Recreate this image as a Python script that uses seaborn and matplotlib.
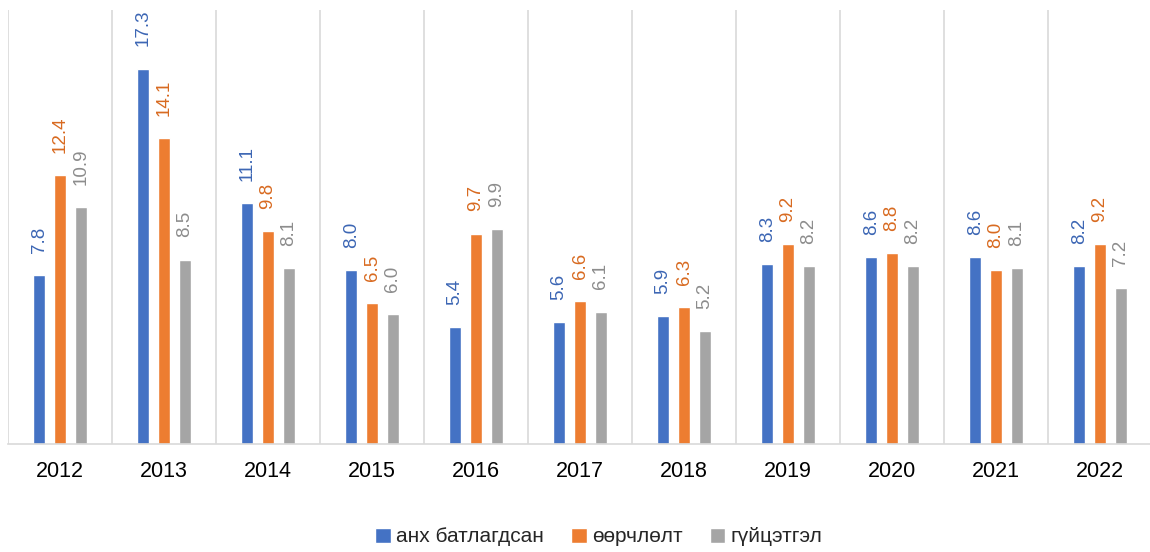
import pandas as pd
import matplotlib.pyplot as plt
import seaborn as sns

# Өгөгдөл
years = ["2012", "2013", "2014", "2015", "2016", "2017", "2018", "2019", "2020", "2021", "2022"]
series = ["анх батлагдсан", "өөрчлөлт", "гүйцэтгэл"]
anh = [7.8, 17.3, 11.1, 8.0, 5.4, 5.6, 5.9, 8.3, 8.6, 8.6, 8.2]
oorchlolt = [12.4, 14.1, 9.8, 6.5, 9.7, 6.6, 6.3, 9.2, 8.8, 8.0, 9.2]
guitsetgel = [10.9, 8.5, 8.1, 6.0, 9.9, 6.1, 5.2, 8.2, 8.2, 8.1, 7.2]

df = pd.DataFrame({
    "year": years * 3,
    "series": [series[0]] * 11 + [series[1]] * 11 + [series[2]] * 11,
    "value": anh + oorchlolt + guitsetgel,
})

bar_colors = ["#4472C4", "#ED7D31", "#A5A5A5"]
label_colors = ["#3C66B4", "#D86A20", "#8C8C8C"]

sns.set_style("white")
plt.rcParams["font.family"] = ["Liberation Sans", "DejaVu Sans"]

fig = plt.figure(figsize=(11.5, 5.52), dpi=100)
ax = fig.add_axes([8 / 1150, 108 / 552, 1144 / 1150, 434 / 552])

sns.barplot(data=df, x="year", y="value", hue="series", order=years,
            hue_order=series, palette=bar_colors, width=0.6, gap=0.43,
            saturation=1, ax=ax)

for cont, col in zip(ax.containers, label_colors):
    ax.bar_label(cont, fmt="%.1f", rotation=90, padding=16,
                 color=col, fontsize=13.5)

ax.set_ylim(0, 20)
ax.set_xlim(-0.5, len(years) - 0.5)
for i in range(len(years) + 1):
    ax.axvline(i - 0.5, color="#D9D9D9", lw=1.2, zorder=0)

ax.set_yticks([])
ax.set_xlabel("")
ax.set_ylabel("")
for s in ["top", "right", "left"]:
    ax.spines[s].set_visible(False)
ax.spines["bottom"].set_color("#D9D9D9")
ax.spines["bottom"].set_linewidth(1.2)
ax.tick_params(axis="x", length=0, pad=12, labelsize=15.5, labelcolor="#000000")

sns.move_legend(ax, "center", bbox_to_anchor=(591 / 1144, -93 / 434),
                ncol=3, frameon=False, title=None, fontsize=15,
                handlelength=0.75, handleheight=0.75, handletextpad=0.25,
                columnspacing=1.3)

fig.savefig("out.png", dpi=100)
